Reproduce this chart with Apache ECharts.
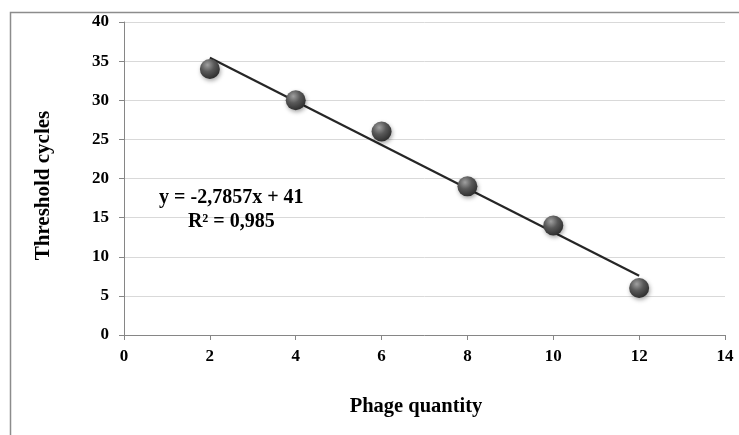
<!DOCTYPE html>
<html>
<head>
<meta charset="utf-8">
<script src="https://cdn.jsdelivr.net/npm/echarts@6/dist/echarts.min.js"></script>
<style>
  html, body { margin: 0; padding: 0; background: #fff; }
  #chart { width: 739px; height: 435px; }
</style>
</head>
<body>
<div id="chart"></div>
<script>
// measured points
const phageQuantity = [2, 4, 6, 8, 10, 12];
const thresholdCycles = [34, 30, 26, 19, 14, 6];

// linear trend line end points (y = -2,7857x + 41)
const trendX = [2, 12];
const trendY = [35.43, 7.57];

const equationLines = ['y = -2,7857x + 41', 'R² = 0,985'];

const font = '"Liberation Serif", "Times New Roman", serif';

const chart = echarts.init(document.getElementById('chart'));

const option = {
    animation: false,
    backgroundColor: '#fff',
    grid: {
        left: 124,
        right: 14,
        top: 22,
        bottom: 100,
    },
    graphic: [
        {
            type: 'polyline',
            shape: { points: [[10.5, 435], [10.5, 12.5], [739, 12.5]] },
            style: { stroke: '#8c8c8c', lineWidth: 1.5, fill: null },
        },
    ],
    xAxis: {
        type: 'value',
        min: 0,
        max: 14,
        interval: 2,
        name: 'Phage quantity',
        nameLocation: 'middle',
        nameGap: 61,
        nameTextStyle: {
            fontFamily: font, fontWeight: 'bold', fontSize: 20.5, color: '#000',
            padding: [0, 17, 0, 0],
        },
        axisLine: { lineStyle: { color: '#868686', width: 1 } },
        axisTick: { show: true, length: 5, lineStyle: { color: '#868686' } },
        axisLabel: { fontFamily: font, fontWeight: 'bold', fontSize: 17, color: '#000', margin: 13 },
        splitLine: { show: false },
    },
    yAxis: {
        type: 'value',
        min: 0,
        max: 40,
        interval: 5,
        name: 'Threshold cycles',
        nameLocation: 'middle',
        nameGap: 70,
        nameTextStyle: {
            fontFamily: font, fontWeight: 'bold', fontSize: 21, color: '#000',
            padding: [0, 14, 0, 0],
        },
        axisLine: { show: true, lineStyle: { color: '#868686', width: 1 } },
        axisTick: { show: true, length: 5, lineStyle: { color: '#868686' } },
        axisLabel: { fontFamily: font, fontWeight: 'bold', fontSize: 17, color: '#000', margin: 15 },
        splitLine: { show: true, lineStyle: { color: '#d9d9d9', width: 1 } },
    },
    series: [
        {
            name: 'Trend',
            type: 'line',
            data: trendX.map((x, i) => [x, trendY[i]]),
            symbol: 'none',
            lineStyle: { color: '#262626', width: 2.2 },
            z: 2,
        },
        {
            name: 'Threshold cycles',
            type: 'scatter',
            data: phageQuantity.map((x, i) => [x, thresholdCycles[i]]),
            symbol: 'circle',
            symbolSize: 20,
            itemStyle: {
                opacity: 1,
                color: new echarts.graphic.RadialGradient(0.38, 0.3, 0.75, [
                    { offset: 0, color: '#a0a0a0' },
                    { offset: 0.45, color: '#595959' },
                    { offset: 1, color: '#2a2a2a' },
                ]),
                shadowColor: 'rgba(0,0,0,0.35)',
                shadowBlur: 4,
                shadowOffsetX: 1,
                shadowOffsetY: 2,
            },
            z: 3,
        },
        {
            name: 'Equation',
            type: 'scatter',
            data: [[2.5, 16]],
            symbolSize: 0,
            silent: true,
            itemStyle: { opacity: 1 },
            label: {
                show: true,
                position: 'inside',
                formatter: equationLines.join('\n'),
                fontFamily: font,
                fontWeight: 'bold',
                fontSize: 20,
                lineHeight: 24,
                color: '#000',
                align: 'center',
            },
            z: 4,
        },
    ],
};

chart.setOption(option);
</script>
</body>
</html>
